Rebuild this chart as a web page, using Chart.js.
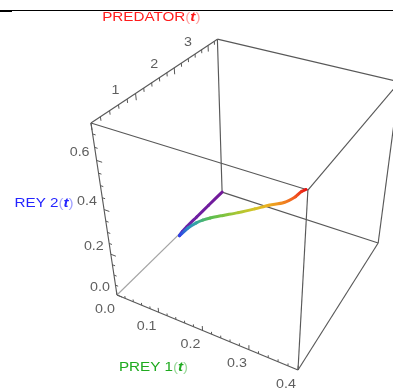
<!DOCTYPE html>
<html>
<head>
<meta charset="utf-8">
<script src="https://cdn.jsdelivr.net/npm/chart.js@4.4.0/dist/chart.umd.min.js"></script>
<style>
  html, body { margin: 0; padding: 0; background: #fff; }
  #wrap { position: relative; width: 393px; height: 390px; overflow: hidden; }
  #chart { position: absolute; left: 0; top: 0; }
  #rule { position: absolute; left: 0; top: 10px; width: 393px; border-top: 1px solid #000; }
  #tab { position: absolute; left: 0; top: 10px; width: 12px; height: 2px; background: #000; }
</style>
</head>
<body>
<div id="wrap">
  <canvas id="chart" width="393" height="390"></canvas>
  <div id="rule"></div>
  <div id="tab"></div>
</div>
<script>
// trajectory samples in time order (colour follows timeFrac)
const timeFrac = [0, 0.03, 0.06, 0.09, 0.12, 0.17, 0.27, 0.33, 0.39, 0.44, 0.5, 0.58, 0.66, 0.75, 0.84, 0.91, 0.96, 1];
const prey1 = [0, 0, 0, 0, 0.0016, 0.0048, 0.029, 0.054, 0.074, 0.098, 0.152, 0.22, 0.276, 0.324, 0.36, 0.38, 0.39, 0.397];
const prey2 = [0, 0, 0, 0, 0.0015, 0.003, 0.061, 0.11, 0.144, 0.181, 0.277, 0.407, 0.511, 0.607, 0.666, 0.703, 0.729, 0.74];
const predator = [3.3, 2.8, 2.38, 2.05, 1.88, 1.75, 1.75, 1.72, 1.68, 1.62, 1.32, 0.86, 0.53, 0.2, 0.033, 0.01, 0, 0];

// plot box ranges and tick values
const prey1Range = [0, 0.4];
const prey2Range = [0, 0.74];
const predatorRange = [0, 3.3];
const prey1Ticks = [0, 0.1, 0.2, 0.3, 0.4];
const prey2Ticks = [0, 0.2, 0.4, 0.6];
const predatorTicks = [1, 2, 3];
const prey1TickLabels = ['0.0', '0.1', '0.2', '0.3', '0.4'];
const prey2TickLabels = ['0.0', '0.2', '0.4', '0.6'];
const predatorTickLabels = ['1', '2', '3'];

// perspective camera, box-normalised coords -> canvas px
const cam = [
  [150.0, -40.7, 152.4, 117],
  [36.5, -191.8, -62.0, 295],
  [-0.104, -0.161, 0.213, 1]
];

const norm = (val, r) => (val - r[0]) / (r[1] - r[0]);

function project(a, b, c) {
  const u = norm(a, prey1Range), v = norm(b, prey2Range), w = norm(c, predatorRange);
  const h = cam[2][0] * u + cam[2][1] * v + cam[2][2] * w + cam[2][3];
  return {
    x: (cam[0][0] * u + cam[0][1] * v + cam[0][2] * w + cam[0][3]) / h,
    y: (cam[1][0] * u + cam[1][1] * v + cam[1][2] * w + cam[1][3]) / h
  };
}

const rainbowStops = [
  [0, [115, 26, 153]], [0.1, [106, 34, 168]], [0.17, [47, 63, 232]],
  [0.3, [42, 160, 184]], [0.45, [92, 191, 74]], [0.6, [184, 200, 48]],
  [0.7, [232, 192, 32]], [0.82, [240, 144, 32]], [0.92, [240, 80, 32]], [1, [232, 16, 16]]
];

function rainbow(t) {
  for (let i = 1; i < rainbowStops.length; i++) {
    const [t1, c1] = rainbowStops[i];
    const [t0, c0] = rainbowStops[i - 1];
    if (t <= t1) {
      const f = (t - t0) / (t1 - t0);
      const c = c0.map((ch, k) => Math.round(ch + (c1[k] - ch) * f));
      return `rgb(${c[0]},${c[1]},${c[2]})`;
    }
  }
  return 'rgb(232,16,16)';
}

// box corners and edges
const corners = [];
[0, 1].forEach(i => [0, 1].forEach(j => [0, 1].forEach(k => {
  corners.push({ i, j, k, p: project(prey1Range[i], prey2Range[j], predatorRange[k]) });
})));
const edgeSets = [];
for (let m = 0; m < corners.length; m++) {
  for (let n = m + 1; n < corners.length; n++) {
    const a = corners[m], b = corners[n];
    const diff = Math.abs(a.i - b.i) + Math.abs(a.j - b.j) + Math.abs(a.k - b.k);
    if (diff !== 1) continue;
    const inner = a.i === 0 && b.i === 0 && a.j === 0 && b.j === 0;
    edgeSets.push({
      data: [a.p, b.p],
      showLine: true,
      borderColor: inner ? '#a4a4a4' : '#585858',
      borderWidth: 1.15,
      pointRadius: 0,
      order: 2
    });
  }
}

const curve = prey1.map((v, i) => project(v, prey2[i], predator[i]));

const FONT = '13px "Liberation Sans", Arial, sans-serif';

function textWidth(g, s, font, stretch) {
  g.font = font;
  return g.measureText(s).width * stretch;
}

function drawText(g, s, x, y, color, font, stretch) {
  g.save();
  g.font = font;
  g.fillStyle = color;
  g.textBaseline = 'middle';
  g.textAlign = 'left';
  g.translate(x, y);
  g.scale(stretch, 1);
  g.fillText(s, 0, 0);
  g.restore();
}

function drawTitle(g, name, color, light, cx, cy) {
  const st = 1.17;
  const parts = [
    [name, color, FONT], ['(', light, FONT],
    ['t', color, 'italic bold ' + FONT], [')', light, FONT]
  ];
  const total = parts.reduce((s, p) => s + textWidth(g, p[0], p[2], st), 0);
  let x = cx - total / 2;
  parts.forEach(p => {
    drawText(g, p[0], x, cy, p[1], p[2], st);
    x += textWidth(g, p[0], p[2], st);
  });
}

const boxDecor = {
  id: 'boxDecor',
  afterDatasetsDraw(chart) {
    const g = chart.ctx;
    const sx = chart.scales.x, sy = chart.scales.y;
    const px = p => ({ x: sx.getPixelForValue(p.x), y: sy.getPixelForValue(p.y) });
    const tick = (from, to) => {
      const a = px(from), b = px(to);
      g.beginPath();
      g.moveTo(a.x, a.y);
      g.lineTo(b.x, b.y);
      g.stroke();
    };
    g.save();
    g.strokeStyle = '#585858';
    g.lineWidth = 1;
    const dv = prey2Range[1] - prey2Range[0];
    const du = prey1Range[1] - prey1Range[0];
    // prey1 axis ticks (point toward +prey2)
    for (let s = 0; s <= 20; s++) {
      const a = prey1Range[0] + s * 0.02;
      const len = s % 5 === 0 ? 0.03 : 0.016;
      tick(project(a, prey2Range[0], predatorRange[0]), project(a, prey2Range[0] + len * dv, predatorRange[0]));
    }
    // prey2 axis ticks (point toward +prey1)
    for (let s = 0; s * 0.05 <= prey2Range[1]; s++) {
      const b = s * 0.05;
      const len = s % 4 === 0 ? 0.03 : 0.016;
      tick(project(prey1Range[0], b, predatorRange[0]), project(prey1Range[0] + len * du, b, predatorRange[0]));
    }
    // predator axis ticks (point toward -prey2)
    for (let s = 0; s * 0.2 <= predatorRange[1]; s++) {
      const c = s * 0.2;
      const len = s % 5 === 0 ? 0.035 : 0.02;
      tick(project(prey1Range[0], prey2Range[1], c), project(prey1Range[0], prey2Range[1] - len * dv, c));
    }
    g.restore();

    const grey = '#5e5e5e';
    const label = (s, p, ox, oy) => {
      const q = px(p);
      drawText(g, s, q.x + ox - textWidth(g, s, FONT, 1.1) / 2, q.y + oy, grey, FONT, 1.1);
    };
    prey1Ticks.forEach((a, i) => label(prey1TickLabels[i], project(a, prey2Range[0], predatorRange[0]), -12, 14));
    prey2Ticks.forEach((b, i) => label(prey2TickLabels[i], project(prey1Range[0], b, predatorRange[0]), -17, -8));
    predatorTicks.forEach((c, i) => label(predatorTickLabels[i], project(prey1Range[0], prey2Range[1], c), -20, -3));

    const mid = (r) => (r[0] + r[1]) / 2;
    const t1 = px(project(mid(prey1Range), prey2Range[0], predatorRange[0]));
    const t2 = px(project(prey1Range[0], mid(prey2Range), predatorRange[0]));
    const t3 = px(project(prey1Range[0], prey2Range[1], mid(predatorRange)));
    drawTitle(g, 'PREY 1', '#1faa1f', '#9ad89a', t1.x - 49, t1.y + 37);
    drawTitle(g, 'REY 2', '#2424ff', '#a0a0ff', t2.x - 61, t2.y - 13);
    drawTitle(g, 'PREDATOR', '#ff1c1c', '#ffa0a0', t3.x - 10, t3.y - 59);
  }
};

new Chart(document.getElementById('chart').getContext('2d'), {
  type: 'scatter',
  data: {
    datasets: [
      {
        data: curve,
        showLine: true,
        borderWidth: 3,
        tension: 0.3,
        pointRadius: 0,
        borderCapStyle: 'round',
        borderJoinStyle: 'round',
        order: 1,
        segment: {
          borderColor: (ctx) => {
            const g = ctx.chart.ctx.createLinearGradient(ctx.p0.x, ctx.p0.y, ctx.p1.x, ctx.p1.y);
            g.addColorStop(0, rainbow(timeFrac[ctx.p0DataIndex]));
            g.addColorStop(1, rainbow(timeFrac[ctx.p1DataIndex]));
            return g;
          }
        }
      },
      ...edgeSets
    ]
  },
  plugins: [boxDecor],
  options: {
    responsive: false,
    animation: false,
    layout: { padding: 0 },
    plugins: { legend: { display: false }, tooltip: { enabled: false } },
    scales: {
      x: { type: 'linear', min: 0, max: 393, display: false },
      y: { type: 'linear', min: 0, max: 390, reverse: true, display: false }
    }
  }
});
</script>
</body>
</html>
